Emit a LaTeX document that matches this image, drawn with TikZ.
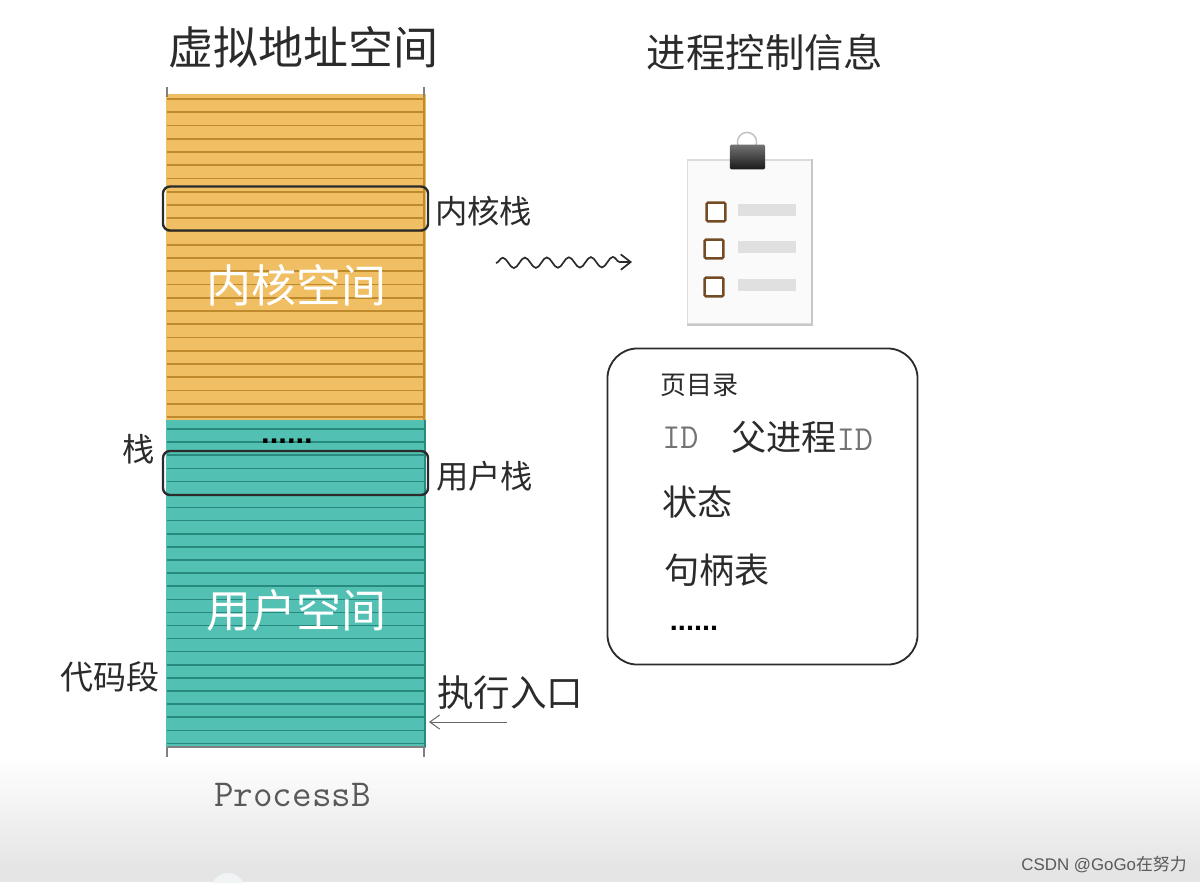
\documentclass[tikz,border=0pt]{standalone}
\usepackage{fontspec}
\setmainfont{Noto Sans CJK SC}
\newfontfamily\dotfont{Liberation Sans}
\usetikzlibrary{arrows.meta,decorations.pathmorphing}

\definecolor{kernelfill}{HTML}{F0BF64}
\definecolor{kernelline}{HTML}{BE8A2C}
\definecolor{userfill}{HTML}{52C0B3}
\definecolor{userline}{HTML}{28897F}
\definecolor{inkgray}{HTML}{2B2B2B}

\begin{document}
\begin{tikzpicture}[
            x = 0.025cm, y = -0.025cm, % one unit is one pixel of the reference
            band/.style = {shape=rectangle,inner sep=0pt,minimum width=6.5cm},
            stackbox/.style = {shape=rectangle,draw=inkgray,line width=1.7pt,rounded corners=5pt,
                inner sep=0pt,minimum width=6.625cm,minimum height=1.1cm},
            label/.style = {text=inkgray,inner sep=0pt,anchor=west,font=\fontsize{23}{26}\selectfont},
            spacename/.style = {text=white,inner sep=0pt,font=\fontsize{32}{36}\selectfont},
            infotext/.style = {text=inkgray,inner sep=0pt,anchor=west,font=\fontsize{25}{28}\selectfont},
            monotext/.style = {text=black!55,inner sep=0pt,anchor=west,font=\ttfamily\fontsize{25}{28}\selectfont},
            dotrow/.style = {text=black,inner sep=0pt,font=\dotfont\bfseries\fontsize{22}{24}\selectfont},
            checkbox/.style = {shape=rectangle,draw=brown!60!black,line width=1.7pt,fill=white,
                rounded corners=1pt,inner sep=0pt,minimum size=0.47cm},
            checkbar/.style = {shape=rectangle,fill=black!12,inner sep=0pt,minimum width=1.45cm,minimum height=0.32cm}
        ]
        \useasboundingbox (0,0) rectangle (1200,882);

        % page fade at the bottom
        \shade[top color=white,bottom color=black!10] (0,755) rectangle (1200,865);
        \fill[black!10] (0,865) rectangle (1200,882);
        \fill[cyan!30!black!6] (228,890) circle (17);

        % address space
        \node[band,fill=kernelfill,minimum height=8.15cm] (kernel) at (296,257.5) {};
        \node[band,fill=userfill,minimum height=8.2cm]    (user)   at (296,584)   {};
        \foreach \i in {0,...,24} {
            \draw[kernelline,line width=1.1pt] (167,99+13.25*\i) -- (424,99+13.25*\i);
        }
        \foreach \i in {0,...,24} {
            \draw[userline,line width=1.1pt] (167,429+13.1*\i) -- (424,429+13.1*\i);
        }
        \draw[kernelline,line width=1.2pt] (424,95) -- (424,420);
        \draw[userline,line width=1.6pt] (425,420) -- (425,747);

        % ticks
        \draw[black!50,line width=0.8pt] (167,87) -- (167,97);
        \draw[black!50,line width=0.8pt] (424,87) -- (424,97);
        \draw[black!50,line width=1.2pt] (167,747) -- (424,747);
        \draw[black!50,line width=0.8pt] (167,747) -- (167,757);
        \draw[black!50,line width=0.8pt] (424,747) -- (424,757);

        \node[stackbox] (kstack) at (295.5,208.5) {};
        \node[stackbox] (ustack) at (295.5,473)   {};

        \node[spacename] (kname) at (296,285) {内核空间};
        \node[spacename] (uname) at (296,610) {用户空间};
        \node[dotrow]    (udots) at (287,441) {......};

        % titles
        \node[text=inkgray,inner sep=0pt,font=\fontsize{32}{36}\selectfont] (vtitle) at (303,47) {虚拟地址空间};
        \node[text=inkgray,inner sep=0pt,font=\fontsize{28}{32}\selectfont] (ptitle) at (765,52) {进程控制信息};

        % side labels
        \node[label] (klabel)  at (435,211) {内核栈};
        \node[label] (ulabel)  at (436,476) {用户栈};
        \node[label] (slabel)  at (122,449) {栈};
        \node[label,font=\fontsize{23.5}{26}\selectfont] (clabel) at (60,677) {代码段};
        \node[label,font=\fontsize{26}{30}\selectfont]   (elabel) at (437,693) {执行入口};
        \node[monotext,text=black!65,font=\ttfamily\fontsize{27}{30}\selectfont] (pname) at (214,795) {ProcessB};

        \coordinate (entryfrom) at (507,722);
        \coordinate (entryto)   at (429,722);
        \draw[-{Straight Barb[length=7pt,width=10pt]},black!60,line width=0.7pt] (entryfrom) -- (entryto);

        \coordinate (wavefrom) at (496,263);
        \coordinate (waveto)   at (632,262);
        \draw[-{Straight Barb[length=7pt,width=11pt]},inkgray,line width=1.2pt,decorate,
            decoration={snake,amplitude=0.13cm,segment length=0.55cm,post length=0.15cm}] (wavefrom) -- (waveto);

        % clipboard
        \node[shape=rectangle,draw=black!14,line width=1pt,fill=black!2,inner sep=0pt,
            minimum width=3.1cm,minimum height=4.1cm] (sheet) at (749.5,242) {};
        \draw[black!22,line width=1.2pt] (sheet.north east) -- (sheet.south east) -- (sheet.south west);
        \node[shape=circle,draw=black!25,line width=1pt,inner sep=0pt,minimum size=0.48cm] (ring) at (747,142) {};
        \node[shape=rectangle,inner sep=0pt,minimum width=0.88cm,minimum height=0.62cm,rounded corners=1pt,
            top color=black!55,bottom color=black!90] (clip) at (747.5,157) {};

        \node[checkbox] (boxa) at (716,212) {};
        \node[checkbox] (boxb) at (714,249) {};
        \node[checkbox] (boxc) at (714,287) {};
        \node[checkbar] (bara) at (767,210) {};
        \node[checkbar] (barb) at (767,247) {};
        \node[checkbar] (barc) at (767,285) {};

        % control info
        \node[shape=rectangle,draw=inkgray,line width=1.3pt,rounded corners=0.75cm,inner sep=0pt,
            minimum width=7.75cm,minimum height=7.9cm] (info) at (762.5,506.5) {};
        \node[infotext,font=\fontsize{18.5}{22}\selectfont] (pagedir) at (660,385) {页目录};
        \node[monotext] (pid) at (662,438) {ID};
        \node[infotext] (ppid) at (731,437) {父进程{\ttfamily\color{black!55}ID}};
        \node[infotext] (state) at (662,502) {状态};
        \node[infotext] (handles) at (664,570) {句柄表};
        \node[dotrow,font=\dotfont\bfseries\fontsize{20.5}{24}\selectfont] (idots) at (694,628) {......};

        \node[text=black!65,inner sep=0pt,anchor=east,font=\dotfont\fontsize{12}{14}\selectfont] (mark) at (1187,865) {CSDN @GoGo{\rmfamily 在努力}};
    \end{tikzpicture}
\end{document}
